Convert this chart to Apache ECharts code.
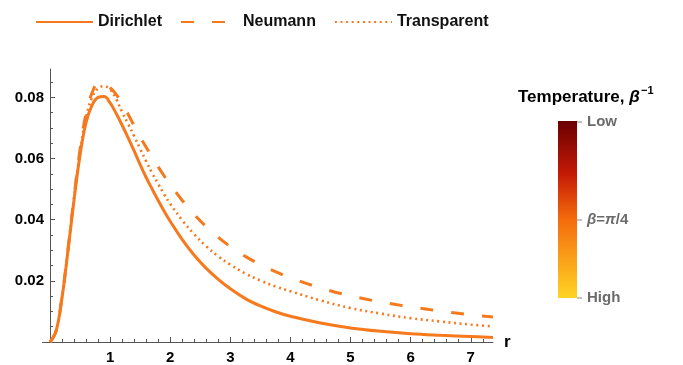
<!DOCTYPE html>
<html>
<head>
<meta charset="utf-8">
<script src="https://cdn.jsdelivr.net/npm/echarts@6/dist/echarts.min.js"></script>
<style>
  html, body { margin: 0; padding: 0; background: #fff; }
  #chart { width: 683px; height: 365px; }
</style>
</head>
<body>
<div id="chart"></div>
<script>
// r values
const rValues = [0, 0.1, 0.2, 0.3, 0.4, 0.5, 0.6, 0.7, 0.8, 0.9, 1.0, 1.1, 1.2, 1.3, 1.4, 1.5, 1.6, 1.7, 1.8, 1.9, 2.0, 2.2, 2.4, 2.6, 2.8, 3.0, 3.25, 3.5, 3.75, 4.0, 4.5, 5.0, 5.5, 6.0, 6.5, 7.0, 7.37]
const dirichlet = [0, 0.0035, 0.0145, 0.0300, 0.0465, 0.0612, 0.0718, 0.0775, 0.0800, 0.0803, 0.0782, 0.0748, 0.0709, 0.0668, 0.0625, 0.0580, 0.0538, 0.0500, 0.0463, 0.0428, 0.0395, 0.0335, 0.0284, 0.0241, 0.0205, 0.0174, 0.0142, 0.0118, 0.0099, 0.0084, 0.0062, 0.0046, 0.0035, 0.0027, 0.0022, 0.0018, 0.0015]
const neumann = [0, 0.0036, 0.0148, 0.0305, 0.0475, 0.0630, 0.0748, 0.0815, 0.0846, 0.0847, 0.0832, 0.0810, 0.0780, 0.0745, 0.0707, 0.0671, 0.0637, 0.0605, 0.0573, 0.0543, 0.0515, 0.0463, 0.0417, 0.0377, 0.0342, 0.0312, 0.0280, 0.0253, 0.0230, 0.0210, 0.0177, 0.0151, 0.0131, 0.0115, 0.0101, 0.0089, 0.0082]
const transparent = [0, 0.0036, 0.0147, 0.0303, 0.0472, 0.0622, 0.0735, 0.0800, 0.0830, 0.0837, 0.0826, 0.0795, 0.0752, 0.0713, 0.0673, 0.0632, 0.0591, 0.0552, 0.0517, 0.0483, 0.0452, 0.0398, 0.0352, 0.0313, 0.0280, 0.0253, 0.0224, 0.0201, 0.0182, 0.0166, 0.0136, 0.0111, 0.0093, 0.0078, 0.0067, 0.0057, 0.0051]
const seriesNames = ['Dirichlet', 'Neumann', 'Transparent']
const yTicks = [0, 0.02, 0.04, 0.06, 0.08]
const xTicks = [0, 1, 2, 3, 4, 5, 6, 7]
// colour bar labels (top -> bottom)
const barLabels = ['Low', 'β=π/4', 'High']

const orange = '#f7791d'
const font = 'Liberation Sans, Arial, sans-serif'

const pairs = (ys) => rValues.map((r, i) => [r, ys[i]])

const myChart = echarts.init(document.getElementById('chart'))

const barTop = 121, barBottom = 298, barLeft = 558, barW = 19
const labelY = [122, 220, 298]

const graphics = [
  {
    type: 'rect',
    shape: { x: barLeft, y: barTop, width: barW, height: barBottom - barTop },
    style: {
      fill: new echarts.graphic.LinearGradient(0, 0, 0, 1, [
        { offset: 0, color: '#6a0000' },
        { offset: 0.3, color: '#c41a06' },
        { offset: 0.55, color: '#f46a0c' },
        { offset: 0.8, color: '#faa51a' },
        { offset: 1, color: '#ffd424' },
      ]),
    },
  },
  {
    type: 'text',
    x: 518, y: 97,
    style: {
      text: '{a|Temperature, }{b|β}',
      rich: {
        a: { fontFamily: font, fontWeight: 'bold', fontSize: 17, fill: '#000' },
        b: { fontFamily: font, fontWeight: 'bold', fontStyle: 'italic', fontSize: 17, fill: '#000' },
      },
      align: 'left', verticalAlign: 'middle',
    },
  },
  {
    type: 'text',
    x: 641, y: 91,
    style: { text: '−1', fontFamily: font, fontWeight: 'bold', fontSize: 11, fill: '#000', verticalAlign: 'middle' },
  },
  // axis overhang left of the origin
  { type: 'line', shape: { x1: 42, y1: 342.5, x2: 50, y2: 342.5 }, style: { stroke: '#555', lineWidth: 1 } },
]
barLabels.forEach((t, i) => {
  graphics.push({
    type: 'line',
    shape: { x1: barLeft + barW, y1: labelY[i], x2: barLeft + barW + 5, y2: labelY[i] },
    style: { stroke: '#888', lineWidth: 1 },
  })
  const isBeta = t.startsWith('β')
  graphics.push({
    type: 'text',
    x: 587, y: labelY[i],
    style: {
      text: isBeta ? '{i|β}{n|=}{i|π}{n|/4}' : '{n|' + t + '}',
      rich: {
        n: { fontFamily: font, fontWeight: 'bold', fontSize: 15, fill: '#6b6b6b' },
        i: { fontFamily: font, fontWeight: 'bold', fontStyle: 'italic', fontSize: 15, fill: '#6b6b6b' },
      },
      verticalAlign: 'middle',
    },
  })
})

const dashes = ['solid', [13, 18], [2, 3.6]]
const widths = [3, 3, 2.6]
const datas = [dirichlet, neumann, transparent]

const option = {
  animation: false,
  legend: {
    top: 9,
    left: 30,
    itemWidth: 57,
    itemHeight: 14,
    itemGap: 18,
    itemStyle: { opacity: 0, borderWidth: 0 },
    textStyle: { fontFamily: font, fontWeight: 'bold', fontSize: 16, color: '#111' },
    data: seriesNames,
  },
  grid: { left: 50, top: 69, width: 443, height: 273.3 },
  xAxis: {
    type: 'value',
    min: 0,
    max: 7.37,
    interval: 1,
    name: 'r',
    nameGap: 11,
    nameTextStyle: { fontFamily: font, fontWeight: 'bold', fontSize: 17, color: '#000', verticalAlign: 'middle' },
    axisLine: { lineStyle: { color: '#555', width: 1 } },
    axisTick: { show: true, inside: true, length: 5, lineStyle: { color: '#555' }, customValues: xTicks },
    minorTick: { show: true, splitNumber: 5, length: 3, lineStyle: { color: '#555' } },
    axisLabel: {
      customValues: xTicks.slice(1),
      margin: 8,
      fontFamily: font, fontWeight: 'bold', fontSize: 15, color: '#000',
    },
    splitLine: { show: false },
  },
  yAxis: {
    type: 'value',
    min: 0,
    max: 0.0893,
    interval: 0.02,
    axisLine: { show: true, lineStyle: { color: '#555', width: 1 } },
    axisTick: { show: true, inside: true, length: 5, lineStyle: { color: '#555' }, customValues: yTicks },
    minorTick: { show: true, splitNumber: 4, length: 3, lineStyle: { color: '#555' } },
    axisLabel: {
      customValues: yTicks.slice(1),
      formatter: (v) => v.toFixed(2),
      margin: 6,
      fontFamily: font, fontWeight: 'bold', fontSize: 15, color: '#000',
    },
    splitLine: { show: false },
  },
  series: seriesNames.map((name, i) => ({
    name,
    type: 'line',
    smooth: 0.4,
    symbol: 'none',
    color: orange,
    lineStyle: { color: orange, width: widths[i], type: dashes[i] },
    data: pairs(datas[i]),
    z: 3 - i,
  })),
  graphic: graphics,
}

option && myChart.setOption(option)
</script>
</body>
</html>
